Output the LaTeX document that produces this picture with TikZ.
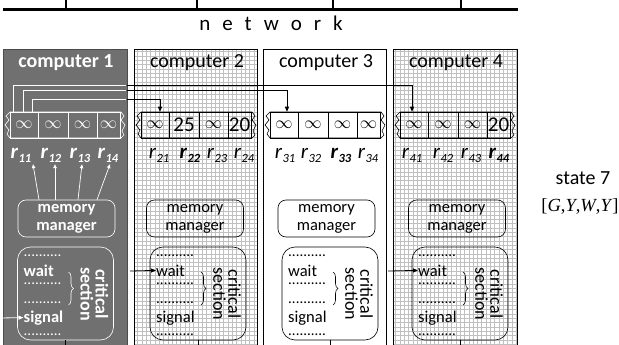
\documentclass[tikz,border=0pt]{standalone}
\usepackage{fontspec}
\setmainfont{Carlito}
\newfontfamily\tnr{Liberation Serif}
\usetikzlibrary{arrows.meta,decorations.pathreplacing}

\definecolor{dark}{RGB}{112,112,112}
\definecolor{gridc}{RGB}{192,192,192}

\newcommand\rlab[1]{\textit{r}\kern0.3pt\raisebox{-4pt}{\fontsize{12.5}{12.5}\selectfont\textit{#1}}}
\newcommand\dotline{..........}
\newcommand\infs{{\fontsize{19}{19}\selectfont$\infty$}}
\newcommand\bign[1]{{\fontsize{21}{21}\selectfont #1}}

\tikzset{
  frame/.style={draw, line width=1.2pt, anchor=north west, minimum width=124pt, minimum height=310pt, inner sep=0pt},
  title/.style={anchor=base, inner sep=0pt},
  cell/.style={draw, line width=0.5pt, minimum height=26pt, inner sep=0pt},
  rl/.style={anchor=base, inner sep=1pt, font=\fontsize{21}{21}\selectfont},
  rlb/.style={anchor=base, inner sep=1pt, font=\fontsize{21}{21}\selectfont\bfseries},
  mm/.style={draw, line width=0.6pt, rounded corners=8pt, minimum width=97pt, minimum height=37pt, align=center, inner sep=0pt},
  cs/.style={draw, line width=0.6pt, rounded corners=13pt, minimum width=96pt, minimum height=93pt, inner sep=0pt},
  cstext/.style={anchor=base west, inner sep=0pt},
  conn/.style={line width=0.8pt, -{Triangle[length=5pt,width=4pt]}},
  mmarrow/.style={line width=0.7pt, -{Triangle[length=4pt,width=3.5pt]}},
  gridl/.style={gridc, line width=0.35pt},
}

% #1 idx, #2 left x, #3 mm centre x, #4 cs centre x, #5 weight
\newcommand\cpu[5]{%
  \node[title,font=\fontsize{20}{20}\selectfont#5] (title#1) at (#2+63,68) {computer #1};
  \draw[line width=0.6pt] (#2+7,112) -- (#2+118,112) -- (#2+121,116) -- (#2+118,120) -- (#2+122,125) -- (#2+119,131) -- (#2+121,135) -- (#2+118,138) -- (#2+7,138) -- (#2+4,134) -- (#2+6,130) -- (#2+2,125) -- (#2+6,120) -- (#2+3,116) -- cycle;
  \node[mm,font=\fontsize{16.5}{18}\selectfont#5] (mm#1) at (#3,218.5) {memory\\manager};
  \node[cs] (cs#1) at (#4,293.5) {};
  \node[cstext,font=\fontsize{15}{15}\selectfont] (da#1) at (#4-42,256) {\dotline};
  \node[cstext,font=\fontsize{16.5}{16.5}\selectfont#5] (w#1) at (#4-42,276) {wait};
  \node[cstext,font=\fontsize{15}{15}\selectfont] (db#1) at (#4-42,284) {\dotline};
  \node[cstext,font=\fontsize{15}{15}\selectfont] (dc#1) at (#4-42,303) {\dotline};
  \node[cstext,font=\fontsize{16.5}{16.5}\selectfont#5] (s#1) at (#4-42,322) {signal};
  \node[cstext,font=\fontsize{15}{15}\selectfont] (dd#1) at (#4-42,335) {\dotline};
  \draw[decorate,decoration={brace,amplitude=5pt},line width=0.6pt] (#4+3,272) -- (#4+3,305);
  \node[rotate=-90,align=center,inner sep=0pt,font=\fontsize{18}{15}\selectfont#5] (cr#1) at (#4+29,294) {critical\\section};
}

% #1 idx, #2 left x, #3..#6 cell contents
\newcommand\cells[6]{%
  \node[cell,minimum width=28pt] (t#1a) at (#2+21,125) {#3};
  \node[cell,minimum width=30pt] (t#1b) at (#2+50,125) {#4};
  \node[cell,minimum width=29pt] (t#1c) at (#2+79.5,125) {#5};
  \node[cell,minimum width=23pt] (t#1d) at (#2+105.5,125) {#6};
}

\newcommand\xpaths[1]{%
  \draw[conn,#1] (o2) -- ++(0,-13) -| ([xshift=5pt]t2a.north);
  \draw[conn,#1] (o3) -- ++(0,-22) -| ([xshift=3pt]t3a.north);
  \draw[conn,#1] (o4) -- ++(0,-27) -| ([xshift=-2pt]t4a.north);
}

\begin{document}
\begin{tikzpicture}[x=1pt,y=-1pt]
\useasboundingbox (0,0) rectangle (619,345);
\clip (0,0) rectangle (619,345);
\fill[white] (0,0) rectangle (619,345);

% network
\draw[line width=3pt] (3,10) -- (518,10);
\foreach \tx in {66,197,333,461} \draw[line width=1.2pt] (\tx,-1) -- (\tx,10);
\node[anchor=base,inner sep=0pt,font=\fontsize{21}{21}\selectfont] (net) at (271,31) {{\spaceskip=12pt n e t w o r k}};

% computer frames
\node[frame,fill=dark,draw=black!70] (cpu1) at (3,49) {};
\draw[gridl,step=4.3pt] (134,49) grid (257,345);
\node[frame,minimum width=123pt] (cpu2) at (134,49) {};
\node[frame,minimum width=123pt] (cpu3) at (263,49) {};
\draw[gridl,step=4.3pt] (393,49) grid (517,345);
\node[frame] (cpu4) at (393,49) {};

% computer 1 (white on dark)
\begin{scope}[color=white]
  \cpu{1}{3}{66.5}{65.5}{\bfseries}
  \cells{1}{3}{\infs}{\infs}{\infs}{\infs}
  \node[rlb] (r1a) at (21,158) {\rlab{11}};
  \node[rlb] (r1b) at (51,158) {\rlab{12}};
  \node[rlb] (r1c) at (80,158) {\rlab{13}};
  \node[rlb] (r1d) at (108,158) {\rlab{14}};
  \draw[mmarrow] ([xshift=-27.5pt]mm1.north) -- ([xshift=12pt,yshift=-1pt]r1a.south);
  \draw[mmarrow] ([xshift=-11.5pt]mm1.north) -- ([xshift=4pt,yshift=-1pt]r1b.south);
  \draw[mmarrow] ([xshift=11.5pt]mm1.north) -- ([xshift=2pt,yshift=-1pt]r1c.south);
  \draw[mmarrow] ([xshift=30.5pt]mm1.north) -- ([xshift=2pt,yshift=-1pt]r1d.south);
\end{scope}

% computer 2
\cpu{2}{134}{195}{198}{}
\cells{2}{134}{\infs}{\bign{25}}{\infs}{\bign{20}}
\node[rl] (r2a) at (159,158) {\rlab{21}};
\node[rlb] (r2b) at (190,158) {\rlab{22}};
\node[rl] (r2c) at (217,158) {\rlab{23}};
\node[rl] (r2d) at (244,158) {\rlab{24}};

% computer 3
\cpu{3}{263}{326.5}{330}{}
\cells{3}{263}{\infs}{\infs}{\infs}{\infs}
\node[rl] (r3a) at (285,158) {\rlab{31}};
\node[rl] (r3b) at (311,158) {\rlab{32}};
\node[rlb] (r3c) at (341,158) {\rlab{33}};
\node[rl] (r3d) at (368,158) {\rlab{34}};

% computer 4
\cpu{4}{393}{457}{460}{}
\cells{4}{393}{\infs}{\infs}{\infs}{\bign{20}}
\node[rl] (r4a) at (412,158) {\rlab{41}};
\node[rl] (r4b) at (443,158) {\rlab{42}};
\node[rl] (r4c) at (471,158) {\rlab{43}};
\node[rlb] (r4d) at (499,158) {\rlab{44}};

% cross connectors from computer 1
\coordinate (o2) at (32,112);
\coordinate (o3) at (23,112);
\coordinate (o4) at (13,112);
\xpaths{black}
\begin{scope}
  \clip (3.6,49.6) rectangle (126.4,345);
  \xpaths{white}
\end{scope}

% entry arrows
\coordinate (e1) at (0,318);
\coordinate (e2) at (130,271);
\coordinate (e4) at (388,271);
\draw[conn,white] (e1) -- (s1.west);
\draw[conn] (e2) -- (w2.west);
\draw[conn] (e4) -- (w4.west);

% stubs below
\foreach \k in {1,2,3,4} \draw[line width=0.8pt] (cs\k.south) -- ++(0,10);

% state
\node[anchor=base,inner sep=0pt,font=\fontsize{20}{20}\selectfont] (st) at (583,184) {state 7};
\node[anchor=base,inner sep=0pt,font=\tnr\fontsize{18.5}{18.5}\selectfont] (sv) at (580,211) {[\textit{G},\textit{Y},\textit{W},\textit{Y}]};
\end{tikzpicture}
\end{document}
